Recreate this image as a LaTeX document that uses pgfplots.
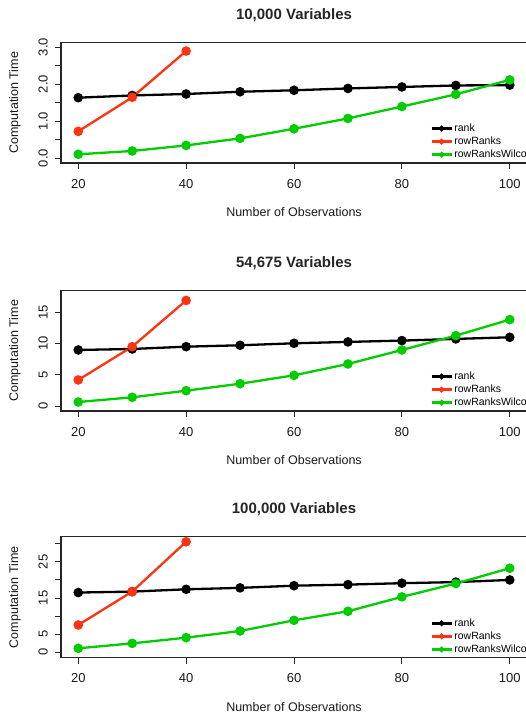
\documentclass[border=0pt]{standalone}
\usepackage{fontspec}
\setmainfont{Liberation Sans}
\usepackage{pgfplots}
\pgfplotsset{compat=1.18}

\definecolor{rblack}{HTML}{000000}
\definecolor{rred}{HTML}{FF3311}
\definecolor{rgreen}{HTML}{00CC00}

\pgfplotsset{
  rplot/.style={
    scale only axis, width=466pt,
    xmin=16.8, xmax=103.2,
    xtick={20,40,60,80,100},
    xtick pos=bottom, ytick pos=left,
    tick align=outside, major tick length=6pt,
    axis line style={line width=1.1pt, black!85},
    every tick/.style={line width=0.9pt, black!85},
    /pgf/number format/assume math mode=true,
    ticklabel style={font=\fontsize{13}{15}\selectfont, black!90},
    yticklabel style={rotate=90, anchor=south, inner sep=2pt, yshift=5pt},
    xticklabel style={inner sep=2pt, yshift=-8pt},
    xlabel={Number of Observations},
    ylabel={Computation Time},
    label style={font=\fontsize{12.5}{14}\selectfont, black!90},
    xlabel style={at={(axis description cs:0.5,0)}, anchor=center, yshift=-49pt},
    ylabel style={at={(axis description cs:0,0.5)}, anchor=center, yshift=46pt},
    title style={at={(axis description cs:0.5,1)}, anchor=center, yshift=21pt,
      font=\fontsize{15}{17}\selectfont\bfseries, black!85},
    legend style={draw=none, fill=none, font=\fontsize{10.5}{12}\selectfont,
      at={(axis description cs:0.792,0)}, anchor=south west, yshift=2pt,
      inner sep=0pt, row sep=1pt,
      nodes={inner sep=1.5pt, anchor=west}},
    legend cell align=left,
    legend image code/.code={
      \draw[##1, mark=none, line width=2.6pt] (0pt,0pt) -- (20pt,0pt);
      \fill[##1] (10pt,0pt) circle (1.6pt);
    },
    every axis plot/.append style={line width=2.3pt, mark=*, mark size=3.6pt,
      mark options={solid}},
  }
}

\begin{document}
\begin{tikzpicture}
\useasboundingbox (0,0) rectangle (526pt,715pt);

% 10,000 variables
\begin{axis}[rplot, name=a1, at={(61pt,552pt)}, anchor=south west,
  height=120.3pt, ymin=-0.135, ymax=3.116,
  ytick={0,0.5,1,1.5,2,2.5,3}, yticklabels={0.0,,1.0,,2.0,,3.0},
  title={10,000 Variables}]
\addplot[rblack] coordinates {(20,1.63) (30,1.69) (40,1.73) (50,1.79) (60,1.83) (70,1.88) (80,1.92) (90,1.96) (100,1.97)};
\addlegendentry{rank}
\addplot[rred] coordinates {(20,0.72) (30,1.64) (40,2.89)};
\addlegendentry{rowRanks}
\addplot[rgreen] coordinates {(20,0.10) (30,0.19) (40,0.34) (50,0.53) (60,0.79) (70,1.07) (80,1.39) (90,1.72) (100,2.11)};
\addlegendentry{rowRanksWilcoxon}
\end{axis}

% 54,675 variables
\begin{axis}[rplot, name=a2, at={(61pt,304pt)}, anchor=south west,
  height=120.3pt, ymin=-0.8, ymax=18.46,
  ytick={0,5,10,15},
  title={54,675 Variables}]
\addplot[rblack] coordinates {(20,8.97) (30,9.13) (40,9.50) (50,9.72) (60,10.04) (70,10.26) (80,10.47) (90,10.74) (100,11.0)};
\addlegendentry{rank}
\addplot[rred] coordinates {(20,4.17) (30,9.50) (40,16.9)};
\addlegendentry{rowRanks}
\addplot[rgreen] coordinates {(20,0.64) (30,1.39) (40,2.45) (50,3.57) (60,4.91) (70,6.73) (80,8.97) (90,11.27) (100,13.83)};
\addlegendentry{rowRanksWilcoxon}
\end{axis}

% 100,000 variables
\begin{axis}[rplot, name=a3, at={(61pt,57.3pt)}, anchor=south west,
  height=121pt, ymin=-1.58, ymax=32.0,
  ytick={0,5,10,15,20,25,30}, yticklabels={0,5,,15,,25,},
  title={100,000 Variables}]
\addplot[rblack] coordinates {(20,16.5) (30,16.76) (40,17.4) (50,17.8) (60,18.4) (70,18.7) (80,19.1) (90,19.4) (100,20.0)};
\addlegendentry{rank}
\addplot[rred] coordinates {(20,7.5) (30,16.76) (40,30.6)};
\addlegendentry{rowRanks}
\addplot[rgreen] coordinates {(20,1.02) (30,2.4) (40,3.98) (50,5.83) (60,8.8) (70,11.3) (80,15.3) (90,19.0) (100,23.25)};
\addlegendentry{rowRanksWilcoxon}
\end{axis}
\end{tikzpicture}
\end{document}
